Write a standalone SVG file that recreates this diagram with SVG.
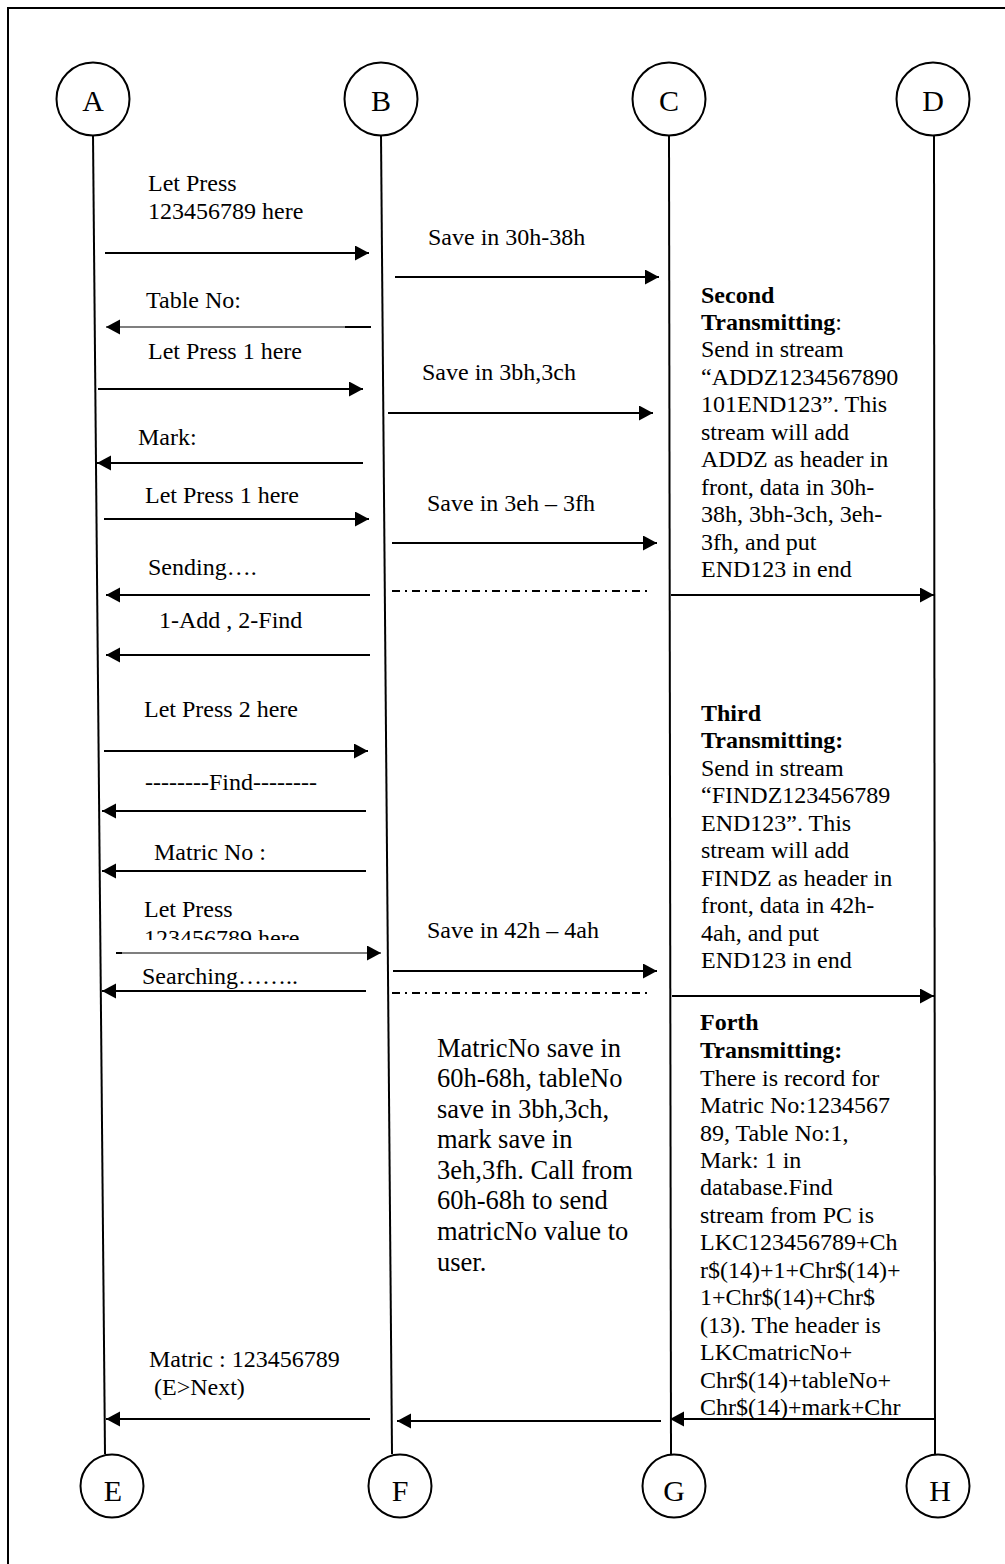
<svg xmlns="http://www.w3.org/2000/svg" width="1005" height="1564" viewBox="0 0 1005 1564">
  <style>
    .frame { fill: none; stroke: #000; stroke-width: 2; }
    .node circle { fill: #fff; stroke: #000; stroke-width: 2; }
    .node text { font-family: "Liberation Serif", "Times New Roman", serif; font-size: 30px; text-anchor: middle; fill: #000; }
    .life { stroke: #000; stroke-width: 2; fill: none; }
    .msg { stroke: #000; stroke-width: 2; fill: none; marker-end: url(#arrow); }
    .thin { stroke-width: 1.2; }
    .dashdot { stroke: #000; stroke-width: 2; fill: none; stroke-dasharray: 8 5 2 5; }
    .lbl { font-family: "Liberation Serif", "Times New Roman", serif; font-size: 24px; fill: #000; }
    .note { font-family: "Liberation Serif", "Times New Roman", serif; font-size: 26.5px; fill: #000; }
    .b { font-weight: bold; }
  </style>
  <defs>
    <marker id="arrow" markerUnits="userSpaceOnUse" markerWidth="15" markerHeight="16" refX="14" refY="7.5" orient="auto">
      <path d="M0,0 L14,7.5 L0,15 z" fill="#000"/>
    </marker>
    <clipPath id="cutLabel">
      <rect x="100" y="890" width="300" height="50"/>
    </clipPath>
  </defs>

  <!-- page frame -->
  <rect class="frame" x="8" y="8" width="1010" height="1570"/>

  <!-- lifelines and messages -->
  <g id="connectors">
    <line class="life" x1="93" y1="135" x2="105" y2="1454"/>
    <line class="life" x1="381" y1="135" x2="392" y2="1454"/>
    <line class="life" x1="669" y1="135" x2="671" y2="1454"/>
    <line class="life" x1="934" y1="135" x2="935" y2="1454"/>

    <line class="msg" x1="105" y1="253" x2="369" y2="253"/>
    <line class="msg" x1="395" y1="277" x2="659" y2="277"/>
    <line class="msg thin" x1="345" y1="327" x2="106" y2="327"/>
    <line class="life" x1="345" y1="327" x2="371" y2="327"/>
    <line class="msg" x1="98" y1="389" x2="363" y2="389"/>
    <line class="msg" x1="388" y1="413" x2="653" y2="413"/>
    <line class="msg" x1="363" y1="463" x2="97" y2="463"/>
    <line class="msg" x1="104" y1="519" x2="369" y2="519"/>
    <line class="msg" x1="392" y1="543" x2="657" y2="543"/>
    <line class="msg" x1="370" y1="595" x2="106" y2="595"/>
    <line class="dashdot" x1="392" y1="591" x2="651" y2="591"/>
    <line class="msg" x1="671" y1="595" x2="934" y2="595"/>
    <line class="msg" x1="370" y1="655" x2="106" y2="655"/>
    <line class="msg" x1="104" y1="751" x2="368" y2="751"/>
    <line class="msg" x1="366" y1="811" x2="102" y2="811"/>
    <line class="msg" x1="366" y1="871" x2="102" y2="871"/>
    <line class="msg thin" x1="116" y1="953" x2="381" y2="953"/>
    <line class="life" x1="116" y1="953" x2="122" y2="953"/>
    <line class="msg" x1="393" y1="971" x2="657" y2="971"/>
    <line class="msg" x1="366" y1="991" x2="102" y2="991"/>
    <line class="dashdot" x1="392" y1="993" x2="651" y2="993"/>
    <line class="msg" x1="672" y1="996" x2="934" y2="996"/>
    <line class="msg" x1="370" y1="1419" x2="106" y2="1419"/>
    <line class="msg" x1="661" y1="1421" x2="397" y2="1421"/>
    <line class="msg" x1="935" y1="1419" x2="670" y2="1419"/>
  </g>

  <!-- participants, top row -->
  <g id="node-A" class="node"><circle cx="93" cy="99" r="36.5"/><text x="93" y="111">A</text></g>
  <g id="node-B" class="node"><circle cx="381" cy="99" r="36.5"/><text x="381" y="111">B</text></g>
  <g id="node-C" class="node"><circle cx="669" cy="99" r="36.5"/><text x="669" y="111">C</text></g>
  <g id="node-D" class="node"><circle cx="933" cy="99" r="36.5"/><text x="933" y="111">D</text></g>

  <!-- participants, bottom row -->
  <g id="node-E" class="node"><circle cx="112" cy="1486" r="31.5"/><text x="113" y="1501">E</text></g>
  <g id="node-F" class="node"><circle cx="400" cy="1486" r="31.5"/><text x="400" y="1501">F</text></g>
  <g id="node-G" class="node"><circle cx="674" cy="1486" r="31.5"/><text x="674" y="1501">G</text></g>
  <g id="node-H" class="node"><circle cx="938" cy="1486" r="31.5"/><text x="940" y="1501">H</text></g>

  <!-- message labels -->
  <g id="labels" class="lbl">
    <text x="148" y="191">Let Press</text>
    <text x="148" y="219">123456789 here</text>
    <text x="428" y="245">Save in 30h-38h</text>
    <text x="146" y="308">Table No:</text>
    <text x="148" y="359">Let Press 1 here</text>
    <text x="422" y="380">Save in 3bh,3ch</text>
    <text x="138" y="445">Mark:</text>
    <text x="145" y="503">Let Press 1 here</text>
    <text x="427" y="511">Save in 3eh – 3fh</text>
    <text x="148" y="575">Sending….</text>
    <text x="159" y="628">1-Add , 2-Find</text>
    <text x="144" y="717">Let Press 2 here</text>
    <text x="145" y="790">--------Find--------</text>
    <text x="154" y="860">Matric No :</text>
    <text x="144" y="917">Let Press</text>
    <text x="144" y="946" clip-path="url(#cutLabel)">123456789 here</text>
    <text x="427" y="938">Save in 42h – 4ah</text>
    <text x="142" y="984">Searching……..</text>
    <text x="149" y="1367">Matric : 123456789</text>
    <text x="154" y="1395">(E&gt;Next)</text>
  </g>

  <!-- second transmitting note -->
  <g id="note-second" class="lbl">
    <text x="701" y="303" class="b">Second</text>
    <text x="701" y="330"><tspan class="b">Transmitting</tspan>:</text>
    <text x="701" y="357">Send in stream</text>
    <text x="701" y="385">“ADDZ1234567890</text>
    <text x="701" y="412">101END123”. This</text>
    <text x="701" y="440">stream will add</text>
    <text x="701" y="467">ADDZ as header in</text>
    <text x="701" y="495">front, data in 30h-</text>
    <text x="701" y="522">38h, 3bh-3ch, 3eh-</text>
    <text x="701" y="550">3fh, and put</text>
    <text x="701" y="577">END123 in end</text>
  </g>

  <!-- third transmitting note -->
  <g id="note-third" class="lbl">
    <text x="701" y="721" class="b">Third</text>
    <text x="701" y="748" class="b">Transmitting:</text>
    <text x="701" y="776">Send in stream</text>
    <text x="701" y="803">“FINDZ123456789</text>
    <text x="701" y="831">END123”. This</text>
    <text x="701" y="858">stream will add</text>
    <text x="701" y="886">FINDZ as header in</text>
    <text x="701" y="913">front, data in 42h-</text>
    <text x="701" y="941">4ah, and put</text>
    <text x="701" y="968">END123 in end</text>
  </g>

  <!-- forth transmitting note -->
  <g id="note-forth" class="lbl">
    <text x="700" y="1030" class="b">Forth</text>
    <text x="700" y="1058" class="b">Transmitting:</text>
    <text x="700" y="1086">There is record for</text>
    <text x="700" y="1113">Matric No:1234567</text>
    <text x="700" y="1141">89, Table No:1,</text>
    <text x="700" y="1168">Mark: 1 in</text>
    <text x="700" y="1195">database.Find</text>
    <text x="700" y="1223">stream from PC is</text>
    <text x="700" y="1250">LKC123456789+Ch</text>
    <text x="700" y="1278">r$(14)+1+Chr$(14)+</text>
    <text x="700" y="1305">1+Chr$(14)+Chr$</text>
    <text x="700" y="1333">(13). The header is</text>
    <text x="700" y="1360">LKCmatricNo+</text>
    <text x="700" y="1388">Chr$(14)+tableNo+</text>
    <text x="700" y="1415">Chr$(14)+mark+Chr</text>
  </g>

  <!-- storage note between B and C -->
  <g id="note-storage" class="note">
    <text x="437" y="1057">MatricNo save in</text>
    <text x="437" y="1087">60h-68h, tableNo</text>
    <text x="437" y="1118">save in 3bh,3ch,</text>
    <text x="437" y="1148">mark save in</text>
    <text x="437" y="1179">3eh,3fh. Call from</text>
    <text x="437" y="1209">60h-68h to send</text>
    <text x="437" y="1240">matricNo value to</text>
    <text x="437" y="1271">user.</text>
  </g>
</svg>
